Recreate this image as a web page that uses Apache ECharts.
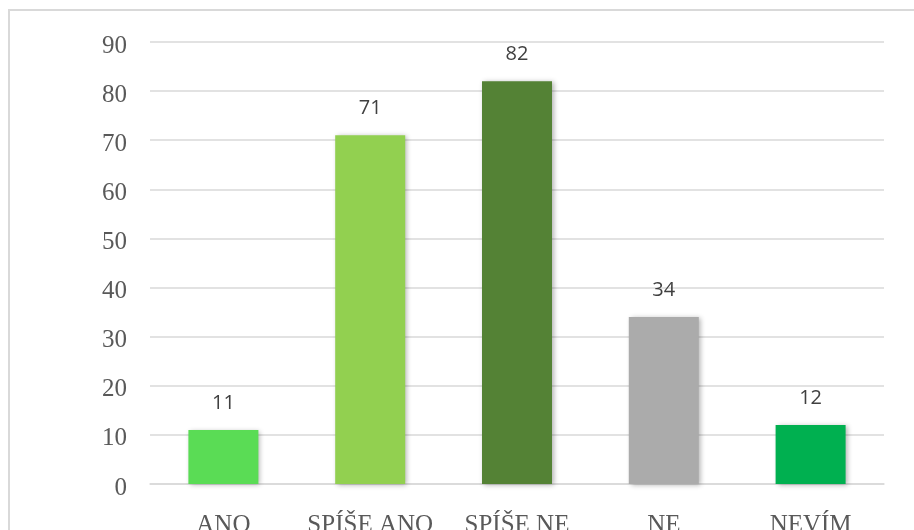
<!DOCTYPE html>
<html>
<head>
<meta charset="utf-8">
<script src="https://cdn.jsdelivr.net/npm/echarts@6/dist/echarts.min.js"></script>
<style>
  html, body { margin: 0; padding: 0; background: #ffffff; }
  #chart { width: 914px; height: 530px; }
</style>
</head>
<body>
<div id="chart"></div>
<script>
// Answer categories and counts
const categories = ['ANO', 'SPÍŠE ANO', 'SPÍŠE NE', 'NE', 'NEVÍM'];
const counts = [11, 71, 82, 34, 12];
const barColors = ['#5ADC55', '#92D050', '#548235', '#ABABAB', '#00B050'];

const chart = echarts.init(document.getElementById('chart'), null, { renderer: 'canvas' });

chart.setOption({
  animation: false,
  backgroundColor: '#ffffff',
  graphic: [{
    type: 'rect',
    shape: { x: 9, y: 10, width: 960, height: 600 },
    style: { fill: 'none', stroke: '#d9d9d9', lineWidth: 2 },
    silent: true
  }],
  grid: { left: 150, right: 30, top: 42, bottom: 46, containLabel: false, outerBoundsMode: 'none' },
  xAxis: {
    type: 'category',
    data: categories,
    axisTick: { show: false },
    axisLine: { show: true, lineStyle: { color: '#d9d9d9', width: 1.5 } },
    axisLabel: {
      interval: 0,
      fontFamily: 'Liberation Serif',
      fontSize: 25,
      color: '#595959',
      margin: 29,
      lineHeight: 25
    }
  },
  yAxis: {
    type: 'value',
    min: 0,
    max: 90,
    interval: 10,
    axisLine: { show: false },
    axisTick: { show: false },
    splitLine: { lineStyle: { color: '#d9d9d9', width: 1.5 } },
    axisLabel: {
      margin: 23,
      formatter: '{v|{value}}',
      rich: {
        v: {
          fontFamily: 'Liberation Serif',
          fontSize: 25,
          color: '#595959',
          lineHeight: 25,
          padding: [8, 0, 0, 0]
        }
      }
    }
  },
  series: [{
    type: 'bar',
    barWidth: 70,
    data: counts.map((v, i) => ({
      value: v,
      itemStyle: {
        color: barColors[i],
        shadowColor: 'rgba(0,0,0,0.3)',
        shadowBlur: 5,
        shadowOffsetX: 2,
        shadowOffsetY: 1
      }
    })),
    label: {
      show: true,
      position: 'top',
      distance: 17,
      fontFamily: 'Open Sans',
      fontSize: 20,
      color: '#404040'
    }
  }]
});
</script>
</body>
</html>
